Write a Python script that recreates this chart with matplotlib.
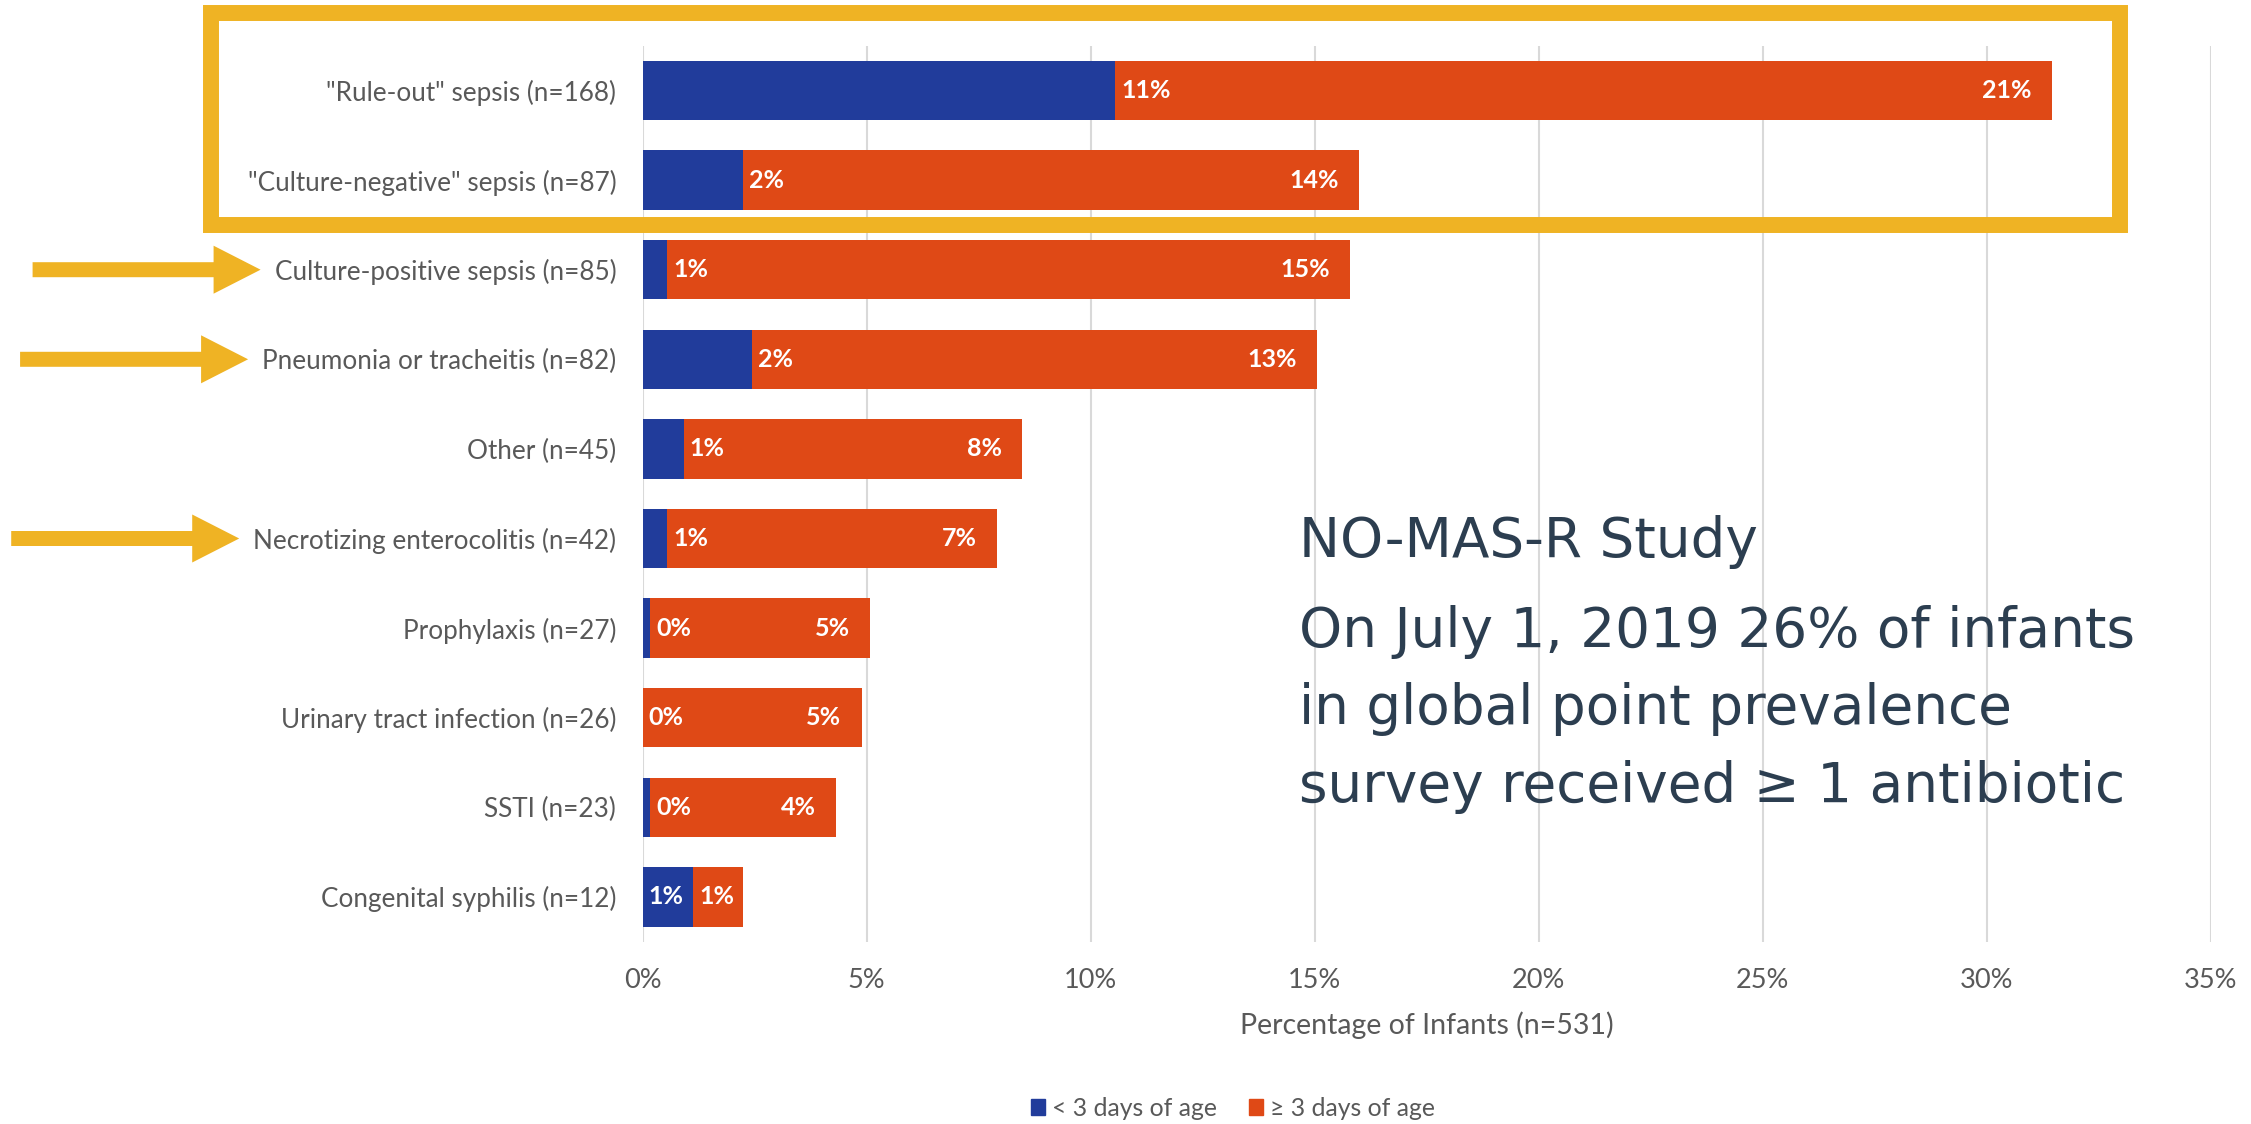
import matplotlib.pyplot as plt
import matplotlib.transforms as mtransforms
import numpy as np
from matplotlib.patches import Patch, Rectangle, Polygon

plt.rcParams["font.family"] = ["Lato", "DejaVu Sans"]

BLUE = "#213c9b"
ORANGE = "#df4916"
GOLD = "#efb324"
GRAY = "#595959"
NAVY = "#2c3e50"

# percentage of infants by indication and age group
categories = ['"Rule-out" sepsis (n=168)', '"Culture-negative" sepsis (n=87)',
              'Culture-positive sepsis (n=85)', 'Pneumonia or tracheitis (n=82)',
              'Other (n=45)', 'Necrotizing enterocolitis (n=42)',
              'Prophylaxis (n=27)', 'Urinary tract infection (n=26)',
              'SSTI (n=23)', 'Congenital syphilis (n=12)']
under_3 = [10.55, 2.25, 0.55, 2.45, 0.92, 0.55, 0.17, 0.0, 0.17, 1.12]
over_3 = [20.9, 13.75, 15.25, 12.6, 7.55, 7.36, 4.9, 4.89, 4.15, 1.12]
xticks = [0, 5, 10, 15, 20, 25, 30, 35]
flagged = [2, 3, 5]  # rows marked with an arrow

W, H = 2251, 1124
fig = plt.figure(figsize=(W / 100, H / 100), dpi=100)
ax = fig.add_axes([642.6 / W, 1 - 941.7 / H, (2210.6 - 642.6) / W, (941.7 - 45.7) / H])

y = np.arange(len(categories))
ax.barh(y, under_3, height=0.665, color=BLUE, zorder=2)
ax.barh(y, over_3, left=under_3, height=0.665, color=ORANGE, zorder=2)

# value labels
for i, (a, b) in enumerate(zip(under_3, over_3)):
    kw = dict(color="white", fontsize=18, fontweight="bold", va="center", zorder=3)
    if b < 2:
        ax.text(0.13, i, f"{a:.0f}%", ha="left", **kw)
        ax.text(a + 0.15, i, f"{b:.0f}%", ha="left", **kw)
    else:
        ax.text(a + 0.13, i, f"{a:.0f}%", ha="left", **kw)
        ax.text(a + b - 0.45, i, f"{b:.0f}%", ha="right", **kw)

ax.set_xlim(0, 35)
ax.set_ylim(len(categories) - 0.5, -0.5)
ax.set_xticks(xticks)
ax.set_xticklabels([f"{t}%" for t in xticks])
ax.set_yticks(y)
ax.set_yticklabels(categories)
ax.grid(axis="x", color="#d9d9d9", linewidth=1.5)
ax.set_axisbelow(True)
for s in ax.spines.values():
    s.set_visible(False)
ax.tick_params(length=0, colors=GRAY)
ax.tick_params(axis="y", pad=19, labelsize=18.8)
ax.tick_params(axis="x", pad=19, labelsize=19.5)
ax.set_xlabel("Percentage of Infants (n=531)", fontsize=20.5, color=GRAY, labelpad=13)

fig.legend(handles=[Patch(color=BLUE, label="< 3 days of age"),
                    Patch(color=ORANGE, label="≥ 3 days of age")],
           loc="center", bbox_to_anchor=(1233 / W, 1 - 1108 / H), ncol=2,
           frameon=False, fontsize=17.8, labelcolor=GRAY,
           handlelength=0.56, handleheight=0.65, handletextpad=0.3, columnspacing=1.3)

# highlight box around the sepsis rows
fig.add_artist(Rectangle((211 / W, 1 - 225 / H), 1909 / W, 212 / H, transform=fig.transFigure,
                         fill=False, edgecolor=GOLD, linewidth=11.5, joinstyle="miter"))

# arrows pointing at the flagged rows
fig.canvas.draw()
ident = mtransforms.IdentityTransform()
labels = ax.get_yticklabels()
for i in flagged:
    tip = labels[i].get_window_extent().x0 - 14
    yc = ax.transData.transform((0, i))[1]
    pts = [(tip - 228, yc + 7.5), (tip - 47, yc + 7.5), (tip - 47, yc + 24), (tip, yc),
           (tip - 47, yc - 24), (tip - 47, yc - 7.5), (tip - 228, yc - 7.5)]
    fig.add_artist(Polygon(pts, closed=True, transform=ident, facecolor=GOLD, edgecolor="none"))

note = dict(color=NAVY, fontsize=39.5, family="DejaVu Sans", va="baseline")
fig.text(1299 / W, 1 - 557 / H, "NO-MAS-R Study", **note)
fig.text(1299 / W, 1 - 647 / H, "On July 1, 2019 26% of infants", **note)
fig.text(1299 / W, 1 - 724 / H, "in global point prevalence", **note)
fig.text(1299 / W, 1 - 802 / H, "survey received ≥ 1 antibiotic", **note)

fig.savefig("out.png", dpi=100, facecolor="white")
